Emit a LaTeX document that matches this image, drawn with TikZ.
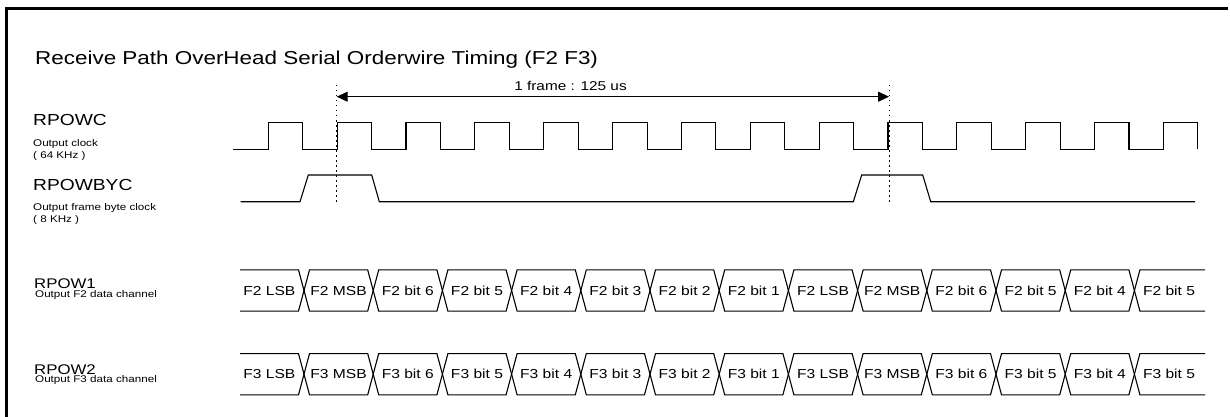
\documentclass[tikz,border=0pt]{standalone}
\usepackage{fontspec}
\setmainfont{Liberation Sans}[FakeStretch=1.2]
\usetikzlibrary{arrows.meta}

\begin{document}
\begin{tikzpicture}[x=1pt,y=-1pt]
\tikzstyle{every node}+=[inner sep=0pt]
\tikzstyle{wave}=[black, line width=1.1pt, line join=miter]
\tikzstyle{marker}=[black, line width=1pt, dash pattern=on 1.5pt off 3.5pt]
\tikzstyle{signame}=[anchor=base west, font=\fontsize{16}{18}\selectfont]
\tikzstyle{busname}=[anchor=base west, font=\fontsize{14}{16}\selectfont]
\tikzstyle{sigdesc}=[anchor=base west, font=\fontsize{9.7}{11}\selectfont]
\tikzstyle{buslabel}=[anchor=base, font=\fontsize{13}{15}\selectfont]
\useasboundingbox (0,0) rectangle (1230,417);
\draw [line width=2.5pt] (6.5,417) -- (6.5,8.7) -- (1228,8.7);

\node [anchor=base west, font=\fontsize{18.7}{22}\selectfont] (title) at (35,64.5) {Receive Path OverHead Serial Orderwire Timing (F2 F3)};

%% signal names
\node [signame] (rpowc) at (33,125.7) {RPOWC};
\node [sigdesc] (rpowc-a) at (33,146.5) {Output clock};
\node [sigdesc] (rpowc-b) at (33,158.5) {( 64 KHz )};
\node [signame] (rpowbyc) at (33,190.7) {RPOWBYC};
\node [sigdesc] (rpowbyc-a) at (33,210) {Output frame byte clock};
\node [sigdesc] (rpowbyc-b) at (33,222) {( 8 KHz )};
\node [busname] (rpow1) at (34,288.3) {RPOW1};
\node [sigdesc] (rpow1-a) at (35,297.3) {Output F2 data channel};
\node [busname] (rpow2) at (34,374) {RPOW2};
\node [sigdesc] (rpow2-a) at (35,382.3) {Output F3 data channel};

%% frame markers
\coordinate (m1top) at (336.7,85);
\coordinate (m1bot) at (336.7,205);
\coordinate (m2top) at (889,85);
\coordinate (m2bot) at (889,205);
\draw [marker] (m1top) -- (m1bot);
\draw [marker] (m2top) -- (m2bot);
\coordinate (a1) at (336.7,96.7);
\coordinate (a2) at (889,96.7);
\draw [line width=1pt, {Triangle[length=11pt,width=10pt]}-{Triangle[length=11pt,width=10pt]}] (a1) -- (a2);
\node [buslabel, font=\fontsize{12.8}{15}\selectfont] (frame) at (570.5,90.7) {1 frame : 125 us};

%% RPOWC
\draw [wave] (232.7,149.3) \foreach \i in {0,...,13} {
  -- ({268.3+68.85*\i},149.3) -- ++(0,-26.6) -- ++(34.5,0) -- ++(0,26.6)};

%% RPOWBYC
\draw [wave] (240.7,201.7) -- (300,201.7) -- (308.3,175) -- (371.7,175) -- (379.3,201.7)
  -- (853.3,201.7) -- (861.7,175) -- (922.7,175) -- (930.7,201.7) -- (1195,201.7);

%% RPOW1 / RPOW2
\foreach \c/\f in {290.5/2, 374.2/3} {
  \draw [wave] (240,\c-20.6) -- (298.5,\c-20.6) -- (304,\c) -- (298.5,\c+20.6) -- (240,\c+20.6);
  \foreach \k in {1,...,12}
    \draw [wave] ({304+69.2*(\k-1)},\c) -- ++(5.5,-20.6) -- ({304+69.2*\k-5.5},\c-20.6)
      -- ({304+69.2*\k},\c) -- ++(-5.5,20.6) -- ({304+69.2*(\k-1)+5.5},\c+20.6) -- cycle;
  \draw [wave] (1205,\c-20.6) -- (1139.9,\c-20.6) -- (1134.4,\c) -- (1139.9,\c+20.6) -- (1205,\c+20.6);
  \foreach \lbl [count=\i from 0] in {LSB,MSB,bit 6,bit 5,bit 4,bit 3,bit 2,bit 1,LSB,MSB,bit 6,bit 5,bit 4,bit 5}
    \node [buslabel] (f\f-\i) at ({304+69.2*(\i-0.5)},\c+4.7) {F\f\ \lbl};
}
\end{tikzpicture}
\end{document}
